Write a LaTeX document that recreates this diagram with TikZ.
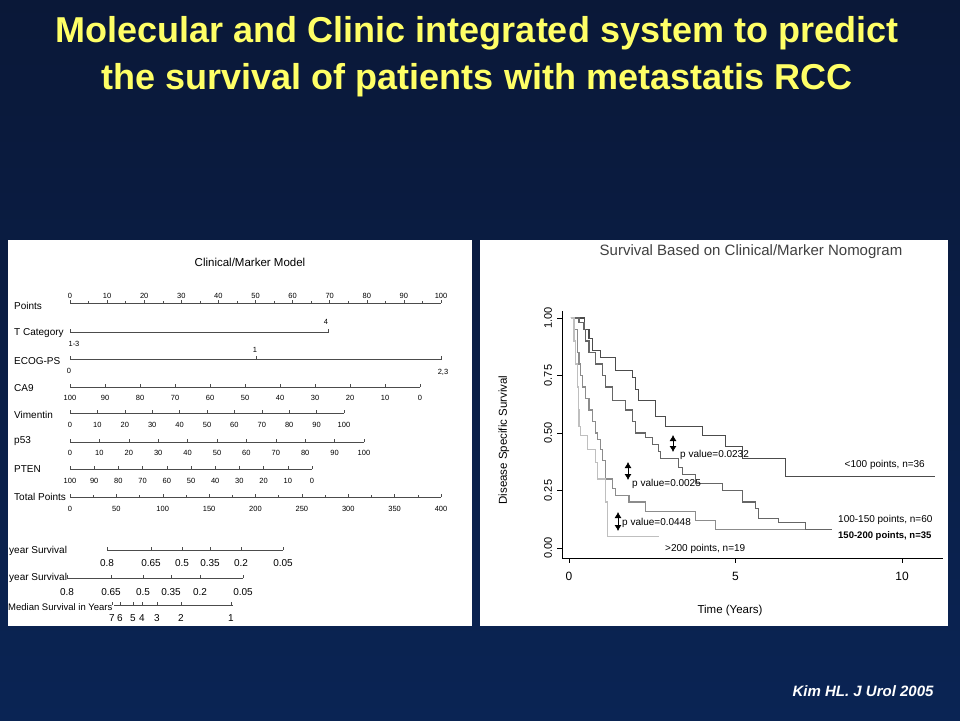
\documentclass[tikz,border=0pt]{standalone}
\usepackage{fontspec}
\setmainfont{Liberation Sans}
\usetikzlibrary{arrows.meta}
\definecolor{slidetop}{HTML}{0A1838}
\definecolor{slidemid}{HTML}{104480}
\definecolor{slidebot}{HTML}{0A2454}
\definecolor{titleyel}{HTML}{FFFF66}
\tikzset{
  rowlab/.style={anchor=west,font=\fontsize{10}{11}\selectfont,inner sep=0pt},
  ticklab/.style={font=\fontsize{7.5}{8}\selectfont,inner sep=0pt},
  survlab/.style={font=\fontsize{10}{11}\selectfont,inner sep=0pt},
  scaleline/.style={line width=0.5pt,draw=black!70},
  kmcurve/.style={line width=1.1pt},
  pval/.style={anchor=west,font=\fontsize{10}{11}\selectfont,inner sep=0pt},
  pvarrow/.style={{Latex[length=6pt,width=7pt]}-{Latex[length=6pt,width=7pt]},line width=0.8pt}
}
\begin{document}
\begin{tikzpicture}[x=1pt,y=-1pt]
\useasboundingbox (0,0) rectangle (960,720);
\shade[top color=slidetop,middle color=slidemid,bottom color=slidebot] (0,0) rectangle (960,720);
%title
\node[font=\bfseries\fontsize{36}{40}\selectfont,text=titleyel] (title1) at (477,33) {Molecular and Clinic integrated system to predict};
\node[font=\bfseries\fontsize{36}{40}\selectfont,text=titleyel] (title2) at (477,80) {the survival of patients with metastatis RCC};
%panels
\fill[white] (8,240) rectangle (472,626);
\fill[white] (480,240) rectangle (948,626);
%nomogram
\node[font=\fontsize{11.5}{13}\selectfont] (nomtitle) at (250,262) {Clinical/Marker Model};
\node[rowlab] at (14,306) {Points};
\draw[scaleline] (70,303) -- (441,303);
\foreach \v in {0,10,...,100}{
  \draw[scaleline] ({70+3.71*\v},303) -- ++(0,-3);
  \node[ticklab] at ({70+3.71*\v},296) {\v};}
\foreach \v in {5,15,...,95} \draw[scaleline] ({70+3.71*\v},303) -- ++(0,-2);
\node[rowlab] at (14,333) {T Category};
\draw[scaleline] (70,332) -- (328,332) -- ++(0,-3);
\draw[scaleline] (70,332) -- ++(0,-3);
\node[ticklab] at (326,322) {4};
\node[ticklab] at (74,344) {1-3};
\node[rowlab] at (14,361) {ECOG-PS};
\draw[scaleline] (70,359) -- (441,359) -- ++(0,-3);
\draw[scaleline] (70,359) -- ++(0,-3) (256,359) -- ++(0,-3);
\node[ticklab] at (255,350) {1};
\node[ticklab] at (69,371) {0};
\node[ticklab] at (443,372) {2,3};
\node[rowlab] at (14,388) {CA9};
\draw[scaleline] (70,387) -- (420,387);
\foreach \v in {0,10,...,100}{
  \draw[scaleline] ({420-3.5*\v},387) -- ++(0,-3);
  \node[ticklab] at ({420-3.5*\v},398) {\v};}
\node[rowlab] at (14,415) {Vimentin};
\draw[scaleline] (70,413) -- (344,413);
\foreach \v in {0,10,...,100}{
  \draw[scaleline] ({70+2.74*\v},413) -- ++(0,-3);
  \node[ticklab] at ({70+2.74*\v},425) {\v};}
\node[rowlab] at (14,441) {p53};
\draw[scaleline] (70,442) -- (364,442);
\foreach \v in {0,10,...,100}{
  \draw[scaleline] ({70+2.94*\v},442) -- ++(0,-3);
  \node[ticklab] at ({70+2.94*\v},453) {\v};}
\node[rowlab] at (14,469) {PTEN};
\draw[scaleline] (70,469) -- (312,469);
\foreach \v in {0,10,...,100}{
  \draw[scaleline] ({312-2.42*\v},469) -- ++(0,-3);
  \node[ticklab] at ({312-2.42*\v},481) {\v};}
\node[rowlab] at (14,497) {Total Points};
\draw[scaleline] (70,497) -- (441,497);
\foreach \v in {0,50,...,400}{
  \draw[scaleline] ({70+0.9275*\v},497) -- ++(0,-3);
  \node[ticklab] at ({70+0.9275*\v},509) {\v};}
\foreach \v in {25,75,...,375} \draw[scaleline] ({70+0.9275*\v},497) -- ++(0,-2);
%survival scales
\node[rowlab] at (9,551) {year Survival};
\draw[scaleline] (107,550) -- (283,550);
\foreach \x/\v in {107/0.8,151/0.65,182/0.5,210/0.35,241/0.2,283/0.05}{
  \draw[scaleline] (\x,550) -- ++(0,-3);
  \node[survlab] at (\x,563) {\v};}
\node[rowlab] at (9,578) {year Survival};
\draw[scaleline] (67,578) -- (243,578);
\foreach \x/\v in {67/0.8,111/0.65,143/0.5,171/0.35,200/0.2,243/0.05}{
  \draw[scaleline] (\x,578) -- ++(0,-3);
  \node[survlab] at (\x,592) {\v};}
\node[rowlab,font=\fontsize{9.5}{10}\selectfont] at (8,607) {Median Survival in Years};
\draw[scaleline] (114,605) -- (233,605);
\foreach \x/\v in {112/7,120/6,133/5,142/4,157/3,181/2,231/1}{
  \draw[scaleline] (\x,605) -- ++(0,-3);
  \node[survlab] at (\x,618) {\v};}
%Kaplan-Meier plot
\node[font=\fontsize{15}{17}\selectfont,text=black!75] (kmtitle) at (751,252) {Survival Based on Clinical/Marker Nomogram};
\draw[line width=0.8pt] (562,311) -- (562,558) -- (943,558);
\foreach \s/\py in {0.00/548,0.25/490.5,0.50/433,0.75/375.5,1.00/318}{
  \draw[line width=0.8pt] (562,\py) -- ++(-5,0);
  \node[ticklab,rotate=90,font=\fontsize{11}{12}\selectfont] at (548,\py) {\s};}
\foreach \t in {0,5,10}{
  \draw[line width=0.8pt] ({569+33.3*\t},558) -- ++(0,5);
  \node[font=\fontsize{12}{13}\selectfont,inner sep=0pt] at ({569+33.3*\t},576) {\t};}
\node[font=\fontsize{11.5}{13}\selectfont,rotate=90] (ylab) at (504,440) {Disease Specific Survival};
\node[font=\fontsize{11.5}{13}\selectfont] (xlab) at (730,611) {Time (Years)};
\begin{scope}[shift={(569,548)},x=33.3pt,y=230pt]
%<100 points
\draw[kmcurve,black!70] (0.05,1) -| (0.47,0.95) -| (0.6,0.91) -| (0.7,0.86) -| (0.95,0.83) -| (1.4,0.77)
  -| (1.9,0.74) -| (2.0,0.69) -| (2.1,0.64) -| (2.6,0.57) -| (2.9,0.53) -| (4.0,0.49) -| (4.7,0.44)
  -| (5.2,0.39) -| (6.5,0.31) -- (11.0,0.31);
%100-150 points
\draw[kmcurve,black!60] (0.05,1) -| (0.3,0.98) -| (0.45,0.95) -| (0.5,0.9) -| (0.6,0.85) -| (0.8,0.8)
  -| (1.0,0.75) -| (1.1,0.7) -| (1.3,0.64) -| (1.7,0.6) -| (1.9,0.55) -| (2.0,0.5) -| (2.3,0.48)
  -| (2.5,0.45) -| (2.7,0.42) -| (2.75,0.39) -| (3.3,0.35) -| (3.4,0.32) -| (3.8,0.28) -| (4.6,0.25)
  -| (5.2,0.2) -| (5.6,0.17) -| (5.7,0.13) -| (6.3,0.11) -| (7.1,0.08) -- (7.9,0.08);
%150-200 points
\draw[kmcurve,black!45] (0.05,1) -| (0.15,0.95) -| (0.25,0.85) -| (0.3,0.8) -| (0.35,0.75) -| (0.4,0.7)
  -| (0.5,0.65) -| (0.6,0.6) -| (0.7,0.55) -| (0.8,0.5) -| (0.85,0.47) -| (0.95,0.43) -| (1.0,0.38)
  -| (1.1,0.3) -| (1.3,0.26) -| (1.4,0.23) -| (1.8,0.2) -| (2.3,0.16) -| (3.8,0.12) -| (4.4,0.08)
  -- (7.1,0.08);
%>200 points
\draw[kmcurve,black!25] (0.05,1) -| (0.15,0.9) -| (0.2,0.8) -| (0.25,0.7) -| (0.28,0.6) -| (0.3,0.53)
  -| (0.35,0.49) -| (0.55,0.43) -| (0.8,0.37) -| (0.85,0.3) -| (1.1,0.2) -| (1.15,0.05) -- (2.7,0.05);
\end{scope}
%p values
\draw[pvarrow] (673,435) -- (673,452);
\node[pval] (pv1) at (680,455) {p value=0.0232};
\draw[pvarrow] (628,462) -- (628,480);
\node[pval] (pv2) at (632,484) {p value=0.0025};
\draw[pvarrow] (618,512) -- (618,531);
\node[pval] (pv3) at (622,523) {p value=0.0448};
\node[pval,anchor=east] (g1) at (925,465) {<100 points, n=36};
\node[pval] (g2) at (838,520) {100-150 points, n=60};
\node[pval,font=\bfseries\fontsize{9.5}{10}\selectfont] (g3) at (838,536) {150-200 points, n=35};
\node[pval] (g4) at (665,549) {>200 points, n=19};
%citation
\node[anchor=east,text=white,font=\bfseries\itshape\fontsize{15}{17}\selectfont] (cite) at (937,691) {Kim HL. J Urol 2005};
\end{tikzpicture}
\end{document}
